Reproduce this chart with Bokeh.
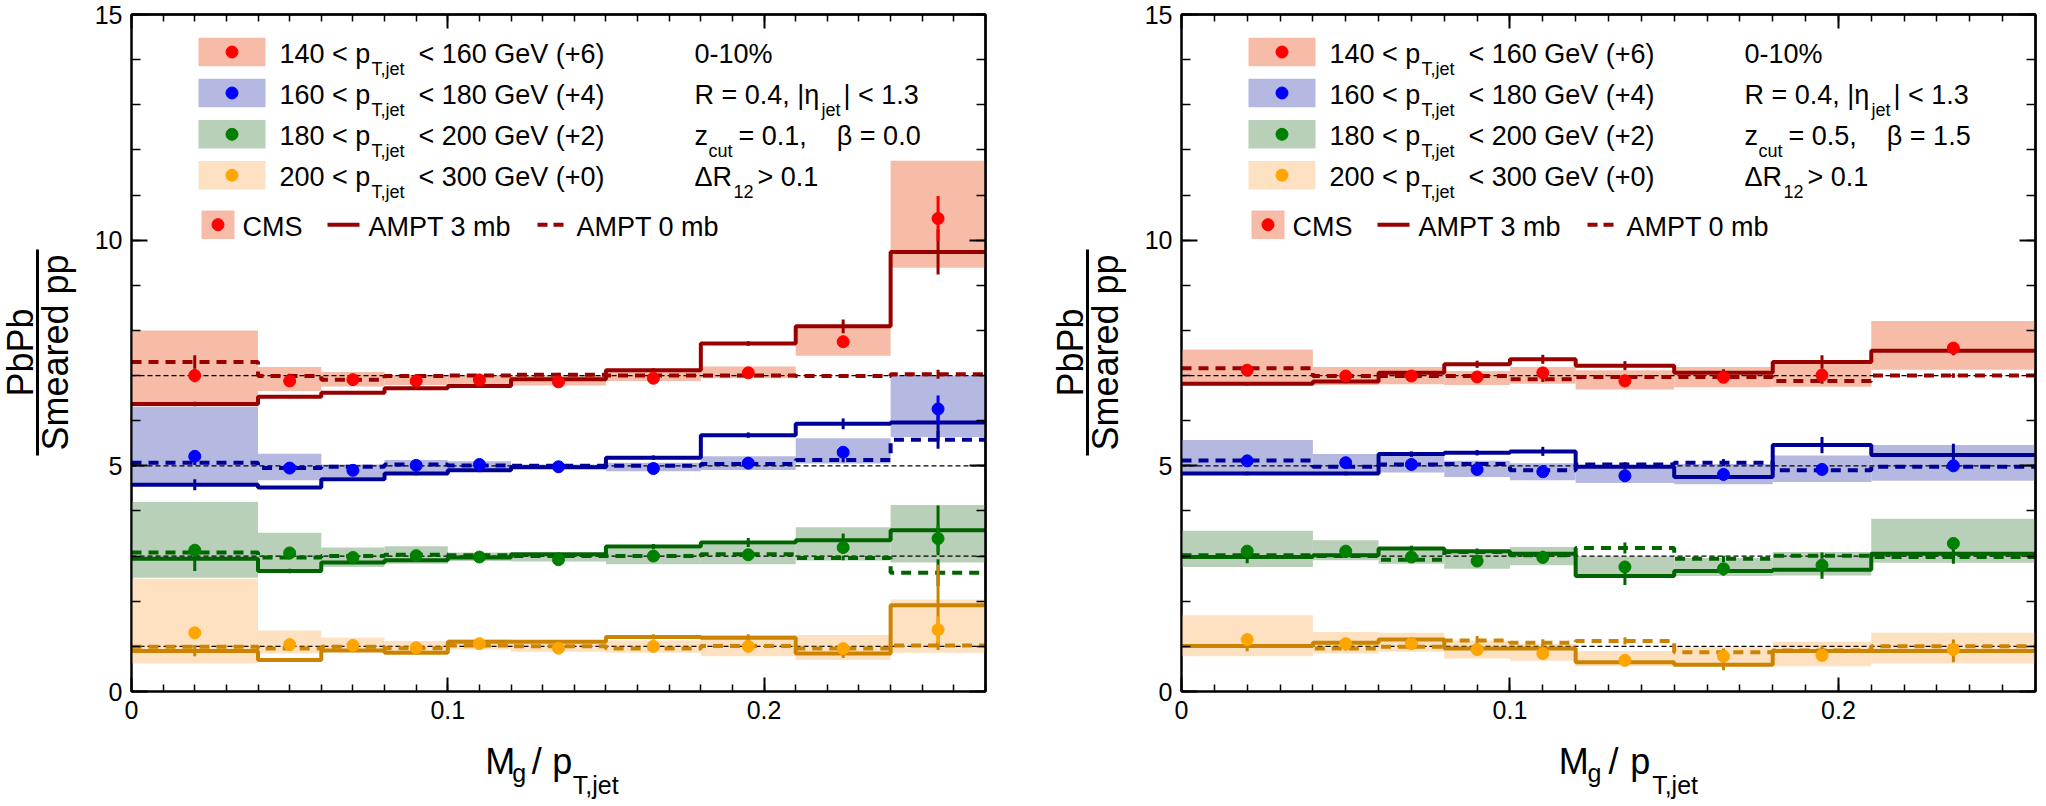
import math
import numpy as np
from bokeh.plotting import figure
from bokeh.models import (Range1d, LinearAxis, SingleIntervalTicker, FixedTicker,
                          Label, NumeralTickFormatter)
from bokeh.layouts import row, column
from bokeh.embed import file_html
from bokeh.resources import INLINE

# ---------------- data (values as plotted, i.e. ratio + offset) ----------------
offsets = [6, 4, 2, 0]
bin_lo_labels = ["140", "160", "180", "200"]
bin_hi_labels = ["160", "180", "200", "300"]
shift_labels = ["+6", "+4", "+2", "+0"]

# ---- left panel: zcut = 0.1, beta = 0.0 ----
left_edges = [0.00, 0.04, 0.06, 0.08, 0.10, 0.12, 0.15, 0.18, 0.21, 0.24, 0.27]
left_centers = [0.02, 0.05, 0.07, 0.09, 0.11, 0.135, 0.165, 0.195, 0.225, 0.255]

left_red_cms = [7.00, 6.88, 6.91, 6.88, 6.90, 6.86, 6.94, 7.06, 7.75, 10.48]
left_red_stat = [0.15, 0.06, 0.05, 0.05, 0.05, 0.05, 0.05, 0.06, 0.10, 0.50]
left_red_syst_lo = [6.32, 6.66, 6.76, 6.79, 6.80, 6.78, 6.88, 6.94, 7.44, 9.39]
left_red_syst_hi = [8.00, 7.19, 7.08, 7.01, 7.02, 7.00, 7.08, 7.20, 8.11, 11.76]
left_red_ampt3 = [6.37, 6.53, 6.62, 6.72, 6.77, 6.92, 7.12, 7.71, 8.09, 9.74]
left_red_ampt3_err = [0.05, 0.03, 0.03, 0.03, 0.03, 0.03, 0.04, 0.05, 0.15, 0.50]
left_red_ampt0 = [7.30, 6.99, 6.91, 6.99, 7.00, 7.02, 7.00, 7.00, 6.99, 7.03]
left_red_ampt0_err = [0.15, 0.05, 0.04, 0.04, 0.04, 0.04, 0.04, 0.04, 0.04, 0.10]

left_blue_cms = [5.21, 4.95, 4.90, 5.01, 5.03, 4.98, 4.94, 5.06, 5.30, 6.26]
left_blue_stat = [0.08, 0.05, 0.05, 0.05, 0.05, 0.04, 0.05, 0.05, 0.08, 0.30]
left_blue_syst_lo = [4.57, 4.68, 4.75, 4.82, 4.88, 4.93, 4.88, 4.91, 5.05, 5.64]
left_blue_syst_hi = [6.31, 5.27, 5.03, 5.13, 5.10, 5.03, 5.07, 5.21, 5.61, 7.00]
left_blue_ampt3 = [4.58, 4.52, 4.70, 4.83, 4.90, 4.97, 5.18, 5.68, 5.93, 5.96]
left_blue_ampt3_err = [0.12, 0.03, 0.03, 0.04, 0.04, 0.04, 0.05, 0.06, 0.12, 0.40]
left_blue_ampt0 = [5.07, 4.95, 4.98, 5.03, 5.01, 5.00, 5.00, 5.04, 5.13, 5.58]
left_blue_ampt0_err = [0.05, 0.04, 0.04, 0.04, 0.04, 0.04, 0.04, 0.04, 0.05, 0.20]

left_green_cms = [3.13, 3.07, 2.97, 3.01, 2.98, 2.92, 3.00, 3.03, 3.19, 3.39]
left_green_stat = [0.10, 0.06, 0.05, 0.05, 0.05, 0.05, 0.06, 0.06, 0.10, 0.30]
left_green_syst_lo = [2.52, 2.70, 2.76, 2.83, 2.89, 2.88, 2.82, 2.82, 2.90, 2.86]
left_green_syst_hi = [4.20, 3.52, 3.19, 3.22, 3.08, 3.05, 3.17, 3.25, 3.64, 4.13]
left_green_ampt3 = [2.94, 2.67, 2.86, 2.91, 2.97, 3.04, 3.21, 3.30, 3.35, 3.57]
left_green_ampt3_err = [0.27, 0.05, 0.04, 0.04, 0.04, 0.04, 0.06, 0.10, 0.15, 0.55]
left_green_ampt0 = [3.08, 2.97, 3.00, 3.03, 3.02, 3.00, 3.00, 3.04, 2.96, 2.63]
left_green_ampt0_err = [0.05, 0.04, 0.04, 0.04, 0.04, 0.04, 0.04, 0.04, 0.05, 0.30]

left_orange_cms = [1.30, 1.04, 1.02, 0.97, 1.06, 0.96, 1.00, 1.00, 0.95, 1.37]
left_orange_stat = [0.08, 0.05, 0.05, 0.05, 0.05, 0.05, 0.05, 0.06, 0.06, 0.30]
left_orange_syst_lo = [0.62, 0.84, 0.88, 0.89, 0.93, 0.88, 0.86, 0.78, 0.70, 0.86]
left_orange_syst_hi = [2.50, 1.35, 1.19, 1.12, 1.16, 1.08, 1.13, 1.25, 1.25, 2.04]
left_orange_ampt3 = [0.90, 0.70, 0.91, 0.86, 1.10, 1.10, 1.21, 1.19, 0.84, 1.91]
left_orange_ampt3_err = [0.12, 0.04, 0.04, 0.04, 0.04, 0.04, 0.06, 0.08, 0.10, 0.90]
left_orange_ampt0 = [0.99, 0.95, 0.99, 0.96, 1.02, 1.00, 0.95, 1.01, 0.95, 1.02]
left_orange_ampt0_err = [0.04, 0.04, 0.04, 0.04, 0.04, 0.04, 0.04, 0.04, 0.04, 0.10]

# ---- right panel: zcut = 0.5, beta = 1.5 ----
right_edges = [0.00, 0.04, 0.06, 0.08, 0.10, 0.12, 0.15, 0.18, 0.21, 0.26]
right_centers = [0.02, 0.05, 0.07, 0.09, 0.11, 0.135, 0.165, 0.195, 0.235]

right_red_cms = [7.12, 6.99, 6.99, 6.97, 7.06, 6.88, 6.96, 7.01, 7.61]
right_red_stat = [0.06, 0.05, 0.05, 0.05, 0.07, 0.06, 0.06, 0.07, 0.12]
right_red_syst_lo = [6.79, 6.79, 6.81, 6.79, 6.82, 6.69, 6.74, 6.75, 7.13]
right_red_syst_hi = [7.58, 7.19, 7.19, 7.10, 7.19, 7.12, 7.19, 7.30, 8.21]
right_red_ampt3 = [6.82, 6.87, 7.06, 7.25, 7.36, 7.22, 7.06, 7.30, 7.55]
right_red_ampt3_err = [0.04, 0.04, 0.05, 0.08, 0.10, 0.10, 0.08, 0.15, 0.10]
right_red_ampt0 = [7.16, 6.99, 6.99, 6.99, 6.92, 6.97, 6.97, 6.88, 7.00]
right_red_ampt0_err = [0.04, 0.04, 0.04, 0.04, 0.06, 0.05, 0.05, 0.06, 0.05]

right_blue_cms = [5.11, 5.07, 5.03, 4.92, 4.87, 4.78, 4.81, 4.92, 5.00]
right_blue_stat = [0.06, 0.06, 0.06, 0.06, 0.06, 0.07, 0.07, 0.07, 0.10]
right_blue_syst_lo = [4.83, 4.83, 4.85, 4.75, 4.68, 4.62, 4.59, 4.64, 4.67]
right_blue_syst_hi = [5.57, 5.26, 5.22, 5.11, 5.06, 5.01, 5.04, 5.23, 5.46]
right_blue_ampt3 = [4.83, 4.83, 5.26, 5.29, 5.32, 4.98, 4.75, 5.46, 5.24]
right_blue_ampt3_err = [0.04, 0.04, 0.06, 0.06, 0.10, 0.06, 0.07, 0.18, 0.25]
right_blue_ampt0 = [5.12, 4.98, 5.03, 5.04, 4.90, 5.03, 5.07, 4.90, 4.98]
right_blue_ampt0_err = [0.04, 0.04, 0.04, 0.05, 0.05, 0.05, 0.08, 0.06, 0.05]

right_green_cms = [3.11, 3.11, 2.98, 2.89, 2.97, 2.76, 2.72, 2.80, 3.28]
right_green_stat = [0.06, 0.06, 0.06, 0.07, 0.07, 0.08, 0.08, 0.08, 0.12]
right_green_syst_lo = [2.76, 2.91, 2.83, 2.72, 2.80, 2.54, 2.56, 2.57, 2.85]
right_green_syst_hi = [3.56, 3.35, 3.17, 3.09, 3.20, 2.99, 2.96, 3.09, 3.83]
right_green_ampt3 = [2.98, 3.02, 3.17, 3.11, 3.05, 2.56, 2.67, 2.70, 3.05]
right_green_ampt3_err = [0.14, 0.04, 0.06, 0.06, 0.07, 0.20, 0.10, 0.20, 0.22]
right_green_ampt0 = [3.02, 3.00, 2.92, 3.09, 3.02, 3.18, 2.94, 3.01, 2.98]
right_green_ampt0_err = [0.04, 0.04, 0.04, 0.05, 0.05, 0.12, 0.07, 0.07, 0.06]

right_orange_cms = [1.15, 1.06, 1.06, 0.93, 0.84, 0.69, 0.78, 0.80, 0.93]
right_orange_stat = [0.06, 0.06, 0.06, 0.07, 0.07, 0.06, 0.08, 0.08, 0.10]
right_orange_syst_lo = [0.78, 0.84, 0.88, 0.73, 0.68, 0.56, 0.56, 0.56, 0.62]
right_orange_syst_hi = [1.69, 1.32, 1.30, 1.13, 1.06, 0.90, 0.99, 1.10, 1.30]
right_orange_ampt3 = [1.01, 1.08, 1.15, 0.95, 0.95, 0.65, 0.59, 0.90, 0.90]
right_orange_ampt3_err = [0.12, 0.04, 0.06, 0.06, 0.08, 0.06, 0.12, 0.10, 0.25]
right_orange_ampt0 = [1.01, 0.95, 0.99, 1.13, 1.08, 1.12, 0.87, 0.91, 1.00]
right_orange_ampt0_err = [0.04, 0.04, 0.05, 0.10, 0.08, 0.08, 0.08, 0.07, 0.06]

# ---------------- styling / layout ----------------
FONT = "Liberation Sans"
marker_colors = ["#ff0000", "#0000ff", "#008000", "#ffa500"]
band_colors = ["#f7bca8", "#b5b8e0", "#b8cfb8", "#fde1c0"]
line_colors = ["#990000", "#000099", "#006400", "#cc8400"]

FW, FH = 854, 677          # frame size
TOP = 14                    # frame top (page px)
BL = 41                     # main figure left border
YT_W = 90                   # width of the y-title strip
MAIN_H = TOP + FH + 46      # main figure height
XT_H = 66                   # height of the x-title strip
REF_Y0, REF_PXU = TOP + FH, FH / 15.0
BASE_FIX = 0.3              # baseline correction (fraction of font size)


def group(cms, stat, lo, hi, a3, a3e, a0, a0e):
    return dict(cms=np.array(cms), stat=np.array(stat), lo=np.array(lo), hi=np.array(hi),
                a3=np.array(a3), a3e=np.array(a3e), a0=np.array(a0), a0e=np.array(a0e))


left_groups = [
    group(left_red_cms, left_red_stat, left_red_syst_lo, left_red_syst_hi,
          left_red_ampt3, left_red_ampt3_err, left_red_ampt0, left_red_ampt0_err),
    group(left_blue_cms, left_blue_stat, left_blue_syst_lo, left_blue_syst_hi,
          left_blue_ampt3, left_blue_ampt3_err, left_blue_ampt0, left_blue_ampt0_err),
    group(left_green_cms, left_green_stat, left_green_syst_lo, left_green_syst_hi,
          left_green_ampt3, left_green_ampt3_err, left_green_ampt0, left_green_ampt0_err),
    group(left_orange_cms, left_orange_stat, left_orange_syst_lo, left_orange_syst_hi,
          left_orange_ampt3, left_orange_ampt3_err, left_orange_ampt0, left_orange_ampt0_err),
]
right_groups = [
    group(right_red_cms, right_red_stat, right_red_syst_lo, right_red_syst_hi,
          right_red_ampt3, right_red_ampt3_err, right_red_ampt0, right_red_ampt0_err),
    group(right_blue_cms, right_blue_stat, right_blue_syst_lo, right_blue_syst_hi,
          right_blue_ampt3, right_blue_ampt3_err, right_blue_ampt0, right_blue_ampt0_err),
    group(right_green_cms, right_green_stat, right_green_syst_lo, right_green_syst_hi,
          right_green_ampt3, right_green_ampt3_err, right_green_ampt0, right_green_ampt0_err),
    group(right_orange_cms, right_orange_stat, right_orange_syst_lo, right_orange_syst_hi,
          right_orange_ampt3, right_orange_ampt3_err, right_orange_ampt0, right_orange_ampt0_err),
]


def step_xy(edges, vals):
    xs, ys = [], []
    for i, v in enumerate(vals):
        xs += [edges[i], edges[i + 1]]
        ys += [v, v]
    return xs, ys


def add_label(fig, x, y, s, size, align="left", angle=0.0, baseline="alphabetic"):
    fig.add_layout(Label(x=x, y=y, text=s, text_font=FONT, text_font_size=size,
                         text_color="black", text_align=align,
                         text_baseline=baseline, angle=angle))


def aux_fig(w, h):
    f = figure(width=w, height=h, x_range=Range1d(0, w), y_range=Range1d(0, h),
               min_border=0, toolbar_location=None, output_backend="svg",
               outline_line_color=None, x_axis_location=None, y_axis_location=None,
               background_fill_color="white", border_fill_color="white")
    f.grid.visible = False
    return f


def tick_only_axis(major, minor, major_len, minor_len):
    a1 = LinearAxis(ticker=FixedTicker(ticks=[], minor_ticks=minor),
                    minor_tick_in=minor_len, minor_tick_out=0, minor_tick_line_width=1.5,
                    major_label_standoff=0, axis_line_width=2)
    a2 = LinearAxis(ticker=FixedTicker(ticks=[], minor_ticks=major),
                    minor_tick_in=major_len, minor_tick_out=0, minor_tick_line_width=2,
                    major_label_standoff=0, axis_line_width=2)
    return a1, a2


def make_panel(edges, centers, groups, zcut_text, min_border_right):
    xmax = edges[-1]
    edges = np.array(edges)
    centers = np.array(centers)

    def fx(off):   # pixel offset from frame left -> data x
        return off * xmax / FW

    def fy(ypx):   # page pixel row -> data y
        return (REF_Y0 - ypx) / REF_PXU

    p = figure(x_range=Range1d(0, xmax), y_range=Range1d(0, 15),
               frame_width=FW, frame_height=FH,
               min_border_left=BL, min_border_right=min_border_right,
               min_border_top=TOP, min_border_bottom=MAIN_H - TOP - FH,
               output_backend="svg", toolbar_location=None,
               background_fill_color="white", border_fill_color="white",
               outline_line_color="black", outline_line_width=2)
    p.grid.visible = False

    # --- axes ---
    p.xaxis.ticker = SingleIntervalTicker(interval=0.1, num_minor_ticks=10)
    p.yaxis.ticker = SingleIntervalTicker(interval=5, num_minor_ticks=5)
    p.xaxis.formatter = NumeralTickFormatter(format="0.[0]")
    for ax in p.xaxis:
        ax.major_tick_in, ax.major_tick_out = 14, 0
        ax.minor_tick_in, ax.minor_tick_out = 7, 0
        ax.major_label_standoff = 9
    for ax in p.yaxis:
        ax.major_tick_in, ax.major_tick_out = 16, 0
        ax.minor_tick_in, ax.minor_tick_out = 9, 0
        ax.major_label_standoff = 9
    for ax in list(p.xaxis) + list(p.yaxis):
        ax.major_label_text_font = FONT
        ax.major_label_text_font_size = "25px"
        ax.major_label_text_color = "black"
        ax.axis_line_width = 2
        ax.major_tick_line_width = 2
        ax.minor_tick_line_width = 1.5

    x_minor = [round(0.01 * i, 2) for i in range(int(round(xmax / 0.01)) + 1)]
    x_major = [v for v in [0.0, 0.1, 0.2] if v <= xmax]
    for a in tick_only_axis(x_major, x_minor, 14, 7):
        p.add_layout(a, "above")
    for a in tick_only_axis([0, 5, 10, 15], list(range(16)), 16, 9):
        p.add_layout(a, "right")

    # --- data ---
    for g, bc in zip(groups, band_colors):
        p.quad(left=edges[:-1], right=edges[1:], bottom=g["lo"], top=g["hi"],
               fill_color=bc, line_color=None)
    for off in offsets:
        p.line([edges[0], edges[-1]], [1 + off, 1 + off], line_color="black",
               line_width=1.2, line_dash="5 3")
    for g, lc in zip(groups, line_colors):
        xs, ys = step_xy(edges, g["a0"])
        p.line(xs, ys, line_color=lc, line_width=4, line_dash="10 7")
        p.segment(x0=centers, y0=g["a0"] - g["a0e"], x1=centers, y1=g["a0"] + g["a0e"],
                  line_color=lc, line_width=3)
        xs, ys = step_xy(edges, g["a3"])
        p.line(xs, ys, line_color=lc, line_width=4)
        p.segment(x0=centers, y0=g["a3"] - g["a3e"], x1=centers, y1=g["a3"] + g["a3e"],
                  line_color=lc, line_width=3)
    for g, mc in zip(groups, marker_colors):
        p.segment(x0=centers, y0=g["cms"] - g["stat"], x1=centers, y1=g["cms"] + g["stat"],
                  line_color=mc, line_width=3)
        p.scatter(centers, g["cms"], size=12, marker="circle", fill_color=mc, line_color=mc)

    # --- legend ---
    M, S = 27, 18

    def txt(s, off, ypx, size=M):
        add_label(p, fx(off), fy(ypx - BASE_FIX * size), s, f"{size}px")

    row_px = [51.5, 92.5, 133.8, 174.7]
    for i, c in enumerate(row_px):
        p.quad(left=[fx(67)], right=[fx(134)], bottom=[fy(c + 14.2)], top=[fy(c - 14.2)],
               fill_color=band_colors[i], line_color=None)
        p.scatter([fx(100.5)], [fy(c)], size=12, marker="circle",
                  fill_color=marker_colors[i], line_color=marker_colors[i])
        txt(f"{bin_lo_labels[i]} < p", 148, c + 10)
        txt("T,jet", 240, c + 22, S)
        txt(f"< {bin_hi_labels[i]} GeV ({shift_labels[i]})", 287, c + 10)

    c = row_px[0]
    txt("0-10%", 563, c + 10)
    c = row_px[1]
    txt("R = 0.4, |\u03b7", 563, c + 10)
    txt("jet", 690, c + 22, S)
    txt("| < 1.3", 712, c + 10)
    c = row_px[2]
    txt("z", 563, c + 10)
    txt("cut", 577, c + 22, S)
    txt(zcut_text, 607, c + 10)
    c = row_px[3]
    txt("\u0394R", 563, c + 10)
    txt("12", 602, c + 22, S)
    txt("> 0.1", 626, c + 10)

    c = 224.2
    p.quad(left=[fx(70)], right=[fx(103)], bottom=[fy(c + 14.2)], top=[fy(c - 14.2)],
           fill_color=band_colors[0], line_color=None)
    p.scatter([fx(86.5)], [fy(c)], size=12, marker="circle",
              fill_color=marker_colors[0], line_color=marker_colors[0])
    txt("CMS", 111, c + 10)
    p.line([fx(196), fx(228)], [fy(c), fy(c)], line_color=line_colors[0], line_width=4)
    txt("AMPT 3 mb", 237, c + 10)
    p.line([fx(406), fx(432)], [fy(c), fy(c)], line_color=line_colors[0], line_width=4,
           line_dash="10 6")
    txt("AMPT 0 mb", 445, c + 10)

    # --- x title strip ---
    width = BL + FW + min_border_right
    xt = aux_fig(width, XT_H)

    def xtxt(s, off, ypx, size):
        add_label(xt, BL + off, XT_H - (ypx - BASE_FIX * size - MAIN_H), s, f"{size}px")

    xtxt("M", 356.6, 772, 36)
    xtxt("g", 387, 780, 25)
    xtxt("/", 409, 772, 36)
    xtxt("p", 432, 772, 36)
    xtxt("T,jet", 455, 792, 25)

    # --- y title strip ---
    H = MAIN_H + XT_H
    yt = aux_fig(YT_W, H)
    yc = H - 352
    add_label(yt, 19.5, yc, "PbPb", "36px", align="center", angle=math.pi / 2,
              baseline="middle")
    add_label(yt, 54.5, yc, "Smeared pp", "36px", align="center", angle=math.pi / 2,
              baseline="middle")
    bar_half = (455 - 249) / 2.0
    yt.line([37, 37], [yc - bar_half, yc + bar_half], line_color="black", line_width=3)

    return row(yt, column(p, xt))


panel1 = make_panel(left_edges, left_centers, left_groups,
                    "= 0.1," + "\u00a0" * 4 + "\u03b2 = 0.0", 65)
panel2 = make_panel(right_edges, right_centers, right_groups,
                    "= 0.5," + "\u00a0" * 4 + "\u03b2 = 1.5", 5)

layout = row(panel1, panel2)
open("out.html", "w").write(file_html(layout, INLINE))
